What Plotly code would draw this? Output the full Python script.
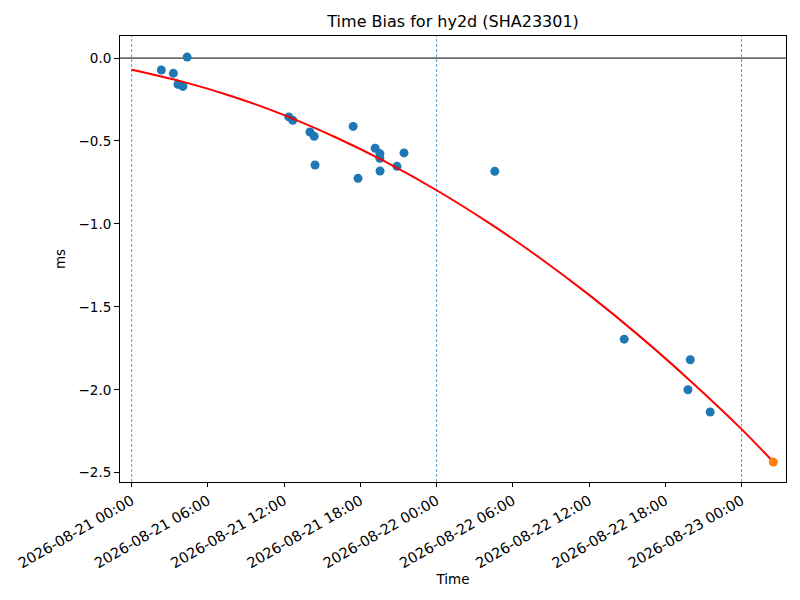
import plotly.graph_objects as go

# measured time bias samples (ms)
obs_time = [
    "2026-08-21 02:20", "2026-08-21 03:17", "2026-08-21 03:39", "2026-08-21 04:02",
    "2026-08-21 04:22", "2026-08-21 12:22", "2026-08-21 12:41", "2026-08-21 14:02",
    "2026-08-21 14:22", "2026-08-21 14:26", "2026-08-21 17:26", "2026-08-21 17:49",
    "2026-08-21 19:10", "2026-08-21 19:32", "2026-08-21 19:32", "2026-08-21 19:33",
    "2026-08-21 20:53", "2026-08-21 21:26", "2026-08-22 04:35", "2026-08-22 14:46",
    "2026-08-22 19:58", "2026-08-22 19:47", "2026-08-22 21:32",
]
obs_bias = [
    -0.072, -0.092, -0.159, -0.171,
    0.006, -0.355, -0.375, -0.446,
    -0.472, -0.645, -0.412, -0.725,
    -0.544, -0.576, -0.604, -0.681,
    -0.653, -0.572, -0.683, -1.695,
    -1.819, -2.000, -2.134,
]

# fitted curve
fit_time = [
    "2026-08-21 00:00", "2026-08-21 04:00", "2026-08-21 08:00", "2026-08-21 12:00",
    "2026-08-21 16:00", "2026-08-21 20:00", "2026-08-22 00:00", "2026-08-22 04:00",
    "2026-08-22 08:00", "2026-08-22 12:00", "2026-08-22 16:00", "2026-08-22 20:00",
    "2026-08-23 00:00", "2026-08-23 02:30",
]
fit_bias = [
    -0.070, -0.142, -0.233, -0.344,
    -0.476, -0.626, -0.797, -0.988,
    -1.198, -1.428, -1.678, -1.948,
    -2.237, -2.435,
]

# current (predicted) point
now_time = ["2026-08-23 02:30"]
now_bias = [-2.436]

day_marks = ["2026-08-21 00:00", "2026-08-22 00:00", "2026-08-23 00:00"]

font = "DejaVu Sans, Liberation Sans, sans-serif"

fig = go.Figure()
fig.add_trace(go.Scatter(
    x=obs_time, y=obs_bias, mode="markers",
    marker=dict(color="#1f77b4", size=9), showlegend=False,
))
fig.add_trace(go.Scatter(
    x=fit_time, y=fit_bias, mode="lines", line_shape="spline",
    line=dict(color="red", width=2), showlegend=False,
))
fig.add_trace(go.Scatter(
    x=now_time, y=now_bias, mode="markers",
    marker=dict(color="#ff7f0e", size=9), showlegend=False,
))

for d in day_marks:
    fig.add_shape(type="line", xref="x", yref="paper", x0=d, x1=d, y0=0, y1=1,
                  line=dict(color="#1f77b4", width=0.7, dash="3px,2px"), layer="below")
fig.add_shape(type="line", xref="paper", yref="y", x0=0, x1=1, y0=0, y1=0,
              line=dict(color="black", width=1), layer="below")

fig.update_layout(
    width=792, height=592,
    margin=dict(l=112, r=14, t=28, b=118),
    paper_bgcolor="white", plot_bgcolor="white",
    font=dict(family=font, size=13.5, color="black"),
    title=dict(text="Time Bias for hy2d (SHA23301)", x=0.562, xanchor="center",
               y=0.978, yanchor="middle", font=dict(size=16)),
)
fig.update_xaxes(
    type="date", range=["2026-08-20 23:05", "2026-08-23 03:30"], automargin=False,
    tick0="2026-08-21 00:00", dtick=6 * 3600 * 1000, tickformat="%Y-%m-%d %H:%M",
    tickangle=-30, ticks="outside", ticklen=4, tickcolor="black",
    tickfont=dict(size=14.5),
    showline=True, linecolor="black", linewidth=1, mirror=True,
    showgrid=False, zeroline=False,
    title=dict(text="Time", standoff=0, font=dict(size=13.5)),
)
fig.update_yaxes(
    range=[-2.556, 0.133], dtick=0.5, tickformat=".1f", automargin=False,
    ticks="outside", ticklen=5, tickcolor="black",
    tickfont=dict(size=13.5),
    showline=True, linecolor="black", linewidth=1, mirror=True,
    showgrid=False, zeroline=False,
    title=dict(text="ms", standoff=9, font=dict(size=13.5)),
)

fig.write_html("out.html")
